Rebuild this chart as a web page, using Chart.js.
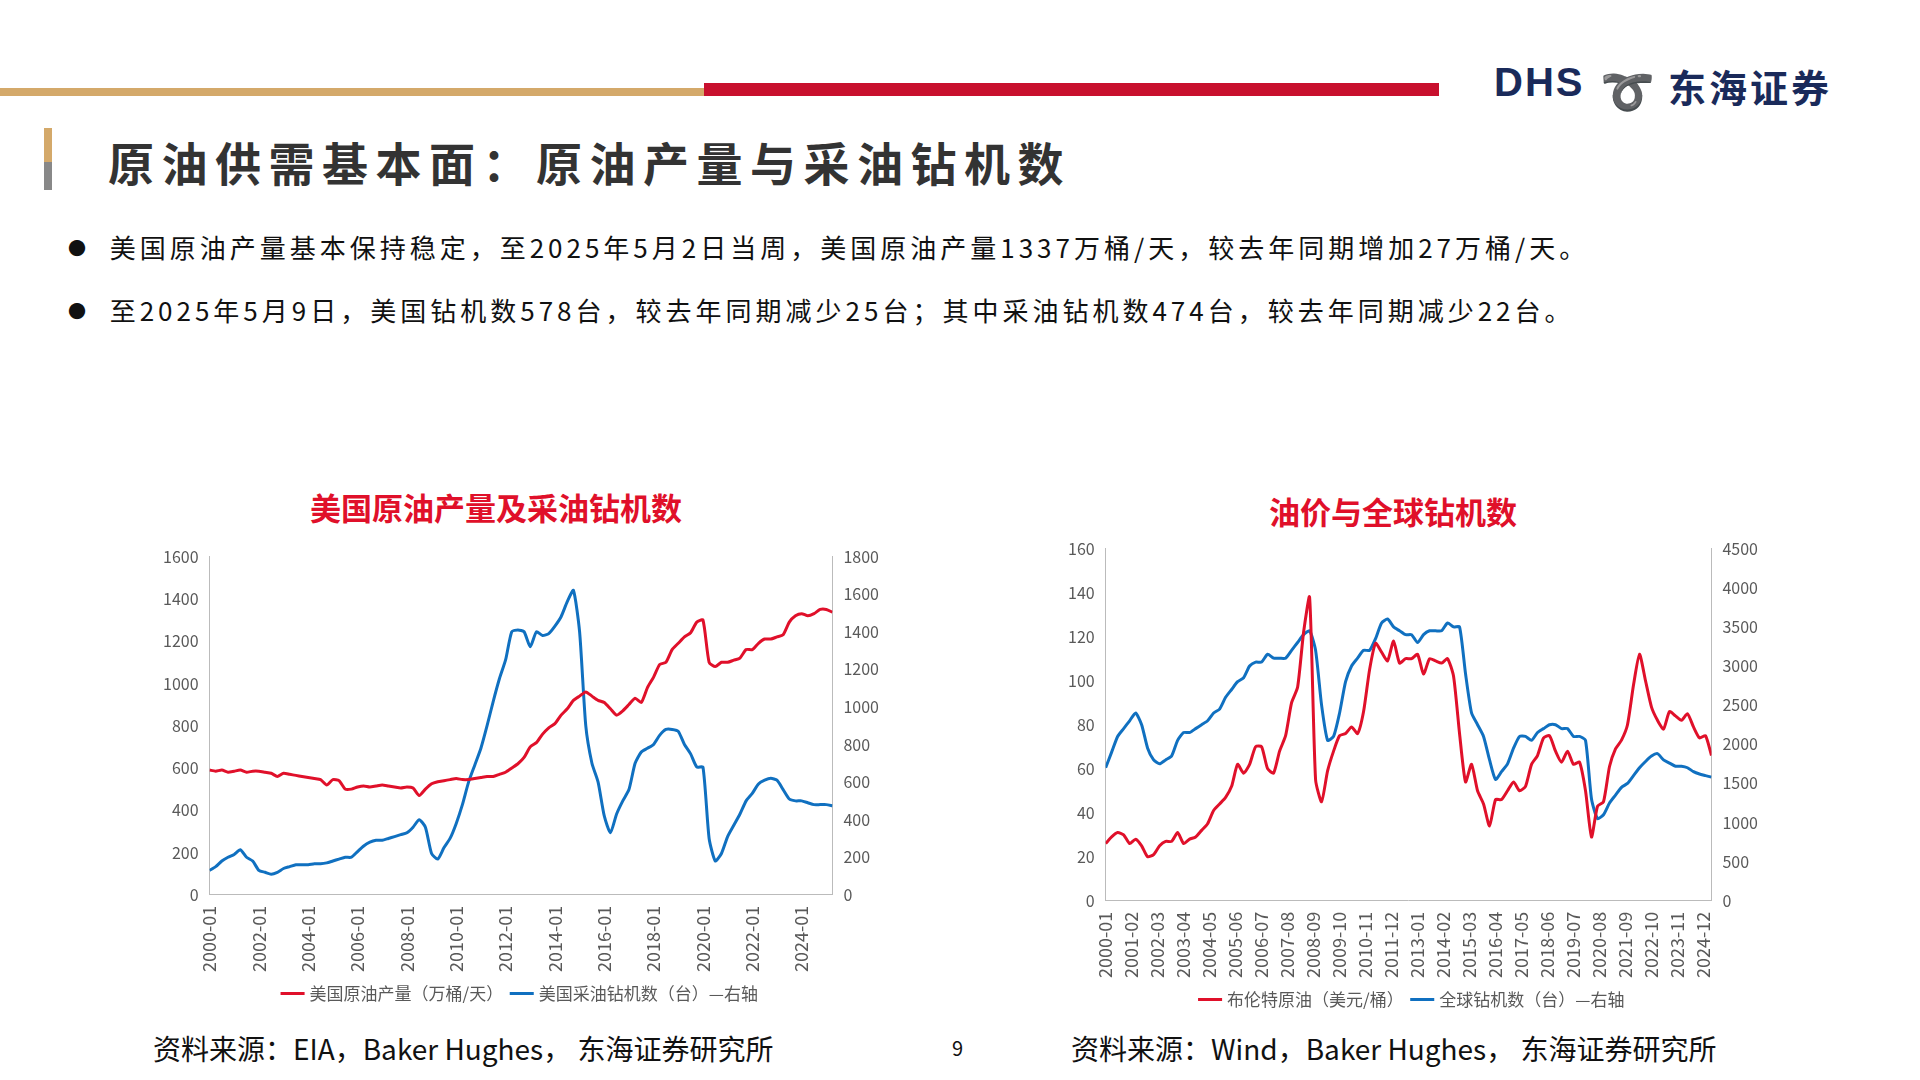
<!DOCTYPE html>
<html><head><meta charset="utf-8">
<script src="https://cdn.jsdelivr.net/npm/chart.js@4"></script>
<style>
body{margin:0;width:1920px;height:1080px;background:#fff;position:relative;overflow:hidden;font-family:"Noto Sans CJK SC","Noto Sans",sans-serif;}
.abs{position:absolute;}
.ct{position:absolute;}
</style></head><body>
<div class="abs" style="left:0;top:88px;width:704px;height:8px;background:#d4a96a"></div>
<div class="abs" style="left:704px;top:83px;width:735px;height:13px;background:#c8102e"></div>
<div class="abs" style="left:1494px;top:60px;font:bold 40px 'Liberation Sans',sans-serif;color:#1a2a5a;letter-spacing:2px">DHS</div>
<div class="abs" style="left:1600px;top:56px;font:bold 44px 'Noto Sans CJK SC';color:#c8102e">➰</div>
<div class="abs" style="left:1668px;top:58px;font:bold 38px 'Noto Sans CJK SC';color:#1a2a5a;letter-spacing:3px">东海证券</div>
<div class="abs" style="left:44px;top:128px;width:8px;height:34px;background:#d4a96a"></div>
<div class="abs" style="left:44px;top:162px;width:8px;height:28px;background:#888"></div>
<div class="abs" style="left:108px;top:128px;font:bold 46px 'Noto Sans CJK SC';color:#333;letter-spacing:7.5px">原油供需基本面：原油产量与采油钻机数</div>
<div class="abs" style="left:68px;top:228px;font:26px 'Noto Sans CJK SC';color:#111;letter-spacing:4px"><span style="font-size:18px;vertical-align:3px">●</span>&nbsp;&nbsp;美国原油产量基本保持稳定，至2025年5月2日当周，美国原油产量1337万桶/天，较去年同期增加27万桶/天。</div>
<div class="abs" style="left:68px;top:291px;font:26px 'Noto Sans CJK SC';color:#111;letter-spacing:4px"><span style="font-size:18px;vertical-align:3px">●</span>&nbsp;&nbsp;至2025年5月9日，美国钻机数578台，较去年同期减少25台；其中采油钻机数474台，较去年同期减少22台。</div>
<div class="abs" style="left:196px;top:484px;width:600px;text-align:center;font:bold 31px 'Noto Sans CJK SC';color:#e0102a">美国原油产量及采油钻机数</div>
<div class="abs" style="left:1093px;top:488px;width:600px;text-align:center;font:bold 31px 'Noto Sans CJK SC';color:#e0102a">油价与全球钻机数</div>
<div class="ct" style="left:160px;top:544px;width:722px;height:468px"><canvas id="c1"></canvas></div>
<div class="ct" style="left:1065px;top:536px;width:696px;height:482px"><canvas id="c2"></canvas></div>
<div class="abs" style="left:153px;top:1028px;font:28px 'Noto Sans CJK SC';color:#111">资料来源：EIA，Baker Hughes， 东海证券研究所</div>
<div class="abs" style="left:952px;top:1033px;font:20px 'Noto Sans CJK SC';color:#111">9</div>
<div class="abs" style="left:1071px;top:1028px;font:28px 'Noto Sans CJK SC';color:#111">资料来源：Wind，Baker Hughes， 东海证券研究所</div>
<script>
const usProd=[590,585,590,580,585,590,580,585,585,580,575,560,575,570,565,560,555,550,545,520,545,540,500,500,510,515,510,515,520,515,510,505,510,505,470,500,525,535,540,545,550,545,545,550,555,560,560,570,580,600,620,650,700,720,760,790,810,850,880,920,940,960,940,920,910,880,850,870,900,930,910,980,1030,1090,1100,1160,1190,1220,1240,1290,1300,1100,1080,1100,1100,1110,1120,1160,1160,1190,1210,1210,1220,1230,1290,1320,1330,1320,1330,1350,1350,1337];
const usOilRigs=[130,150,180,200,215,240,200,180,130,120,110,120,140,150,160,160,160,165,165,170,180,190,200,200,230,260,280,290,290,300,310,320,330,360,400,360,220,190,250,300,380,480,600,690,780,900,1030,1150,1250,1400,1410,1400,1320,1400,1380,1390,1430,1480,1560,1620,1400,900,700,600,420,330,430,500,560,700,760,780,800,850,880,880,870,800,750,680,680,300,180,220,310,370,430,500,540,590,610,620,610,560,510,500,500,490,480,480,480,474];
const brent=[26,29,31,30,26,28,25,20,21,25,27,27,31,26,28,29,32,35,41,44,47,52,62,58,62,70,70,60,58,68,75,90,97,122,138,55,45,59,68,75,76,79,76,86,105,117,113,109,118,108,110,110,112,103,110,109,108,110,102,76,54,62,50,44,34,46,46,50,54,50,52,62,66,74,75,68,63,68,62,63,50,29,43,45,61,69,73,80,98,112,100,88,82,78,86,84,82,85,79,74,75,66];
const globalRigs=[1700,1900,2100,2200,2300,2400,2250,1950,1800,1750,1800,1850,2050,2150,2150,2200,2250,2300,2400,2450,2600,2700,2800,2850,3000,3050,3050,3150,3100,3100,3100,3200,3300,3400,3450,3200,2500,2050,2100,2400,2800,3000,3100,3200,3200,3350,3550,3600,3500,3450,3400,3400,3300,3400,3450,3450,3450,3550,3500,3500,2900,2400,2250,2100,1800,1550,1650,1750,1950,2100,2100,2050,2150,2200,2250,2250,2200,2200,2100,2100,2050,1300,1050,1100,1250,1350,1450,1500,1600,1700,1780,1850,1880,1800,1760,1720,1720,1700,1650,1620,1600,1580];
const RED='#e0102a',BLUE='#1070c0';
const pts=a=>a.map((v,i)=>({x:i*3,y:v}));
const mlab=m=>{const y=2000+Math.floor(m/12),mo=m%12+1;return y+'-'+(mo<10?'0':'')+mo;};
const tf={family:"'Noto Sans CJK SC'",size:16};
const lf={family:"'Noto Sans CJK SC'",size:17};
const xf={family:"'Noto Sans CJK SC'",size:18};
function mk(id,d1,d2,n1,n2,l,r,step,xmax){
 new Chart(document.getElementById(id),{type:'line',
 data:{datasets:[
  {label:n1,data:pts(d1),borderColor:RED,borderWidth:3,pointRadius:0,yAxisID:'y',tension:0.2},
  {label:n2,data:pts(d2),borderColor:BLUE,borderWidth:3,pointRadius:0,yAxisID:'y1',tension:0.2}]},
 options:{responsive:true,maintainAspectRatio:false,animation:false,
  plugins:{legend:{position:'bottom',labels:{usePointStyle:true,pointStyle:'line',font:lf,color:'#595959',boxWidth:40}}},
  scales:{
   x:{type:'linear',min:0,max:xmax,grid:{display:false},border:{color:'#bbb'},
      afterBuildTicks:s=>{const t=[];for(let v=0;v<=xmax;v+=step)t.push({value:v});s.ticks=t;},
      ticks:{maxRotation:90,minRotation:90,autoSkip:false,font:xf,color:'#595959',callback:v=>mlab(v)}},
   y:{min:0,max:l[0],ticks:{stepSize:l[1],font:tf,color:'#595959',callback:v=>v},grid:{display:false},border:{color:'#bbb'}},
   y1:{position:'right',min:0,max:r[0],ticks:{stepSize:r[1],font:tf,color:'#595959',callback:v=>v},grid:{display:false},border:{color:'#bbb'}}}}});
}
mk('c1',usProd,usOilRigs,'美国原油产量（万桶/天）','美国采油钻机数（台）—右轴',[1600,200],[1800,200],24,303);
mk('c2',brent,globalRigs,'布伦特原油（美元/桶）','全球钻机数（台）—右轴',[160,20],[4500,500],13,303);
</script>
</body></html>
